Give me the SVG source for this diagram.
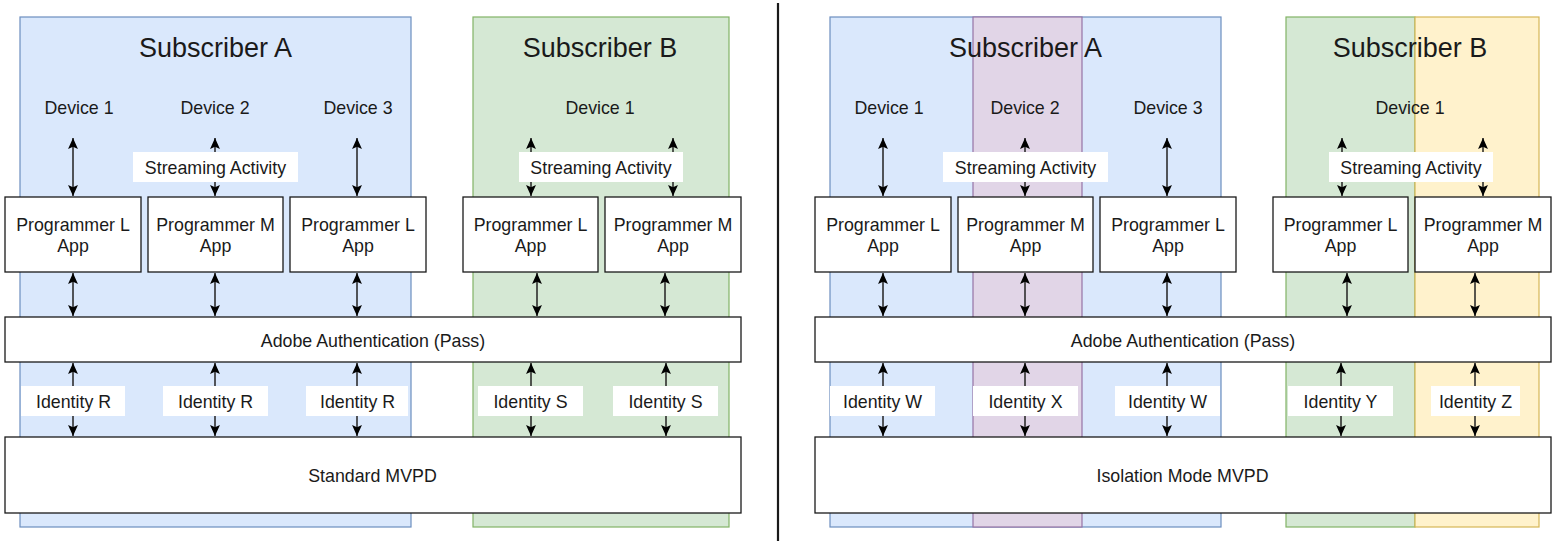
<svg xmlns="http://www.w3.org/2000/svg" width="1560" height="560" viewBox="0 0 1560 560">
<defs>
<marker id="ah" viewBox="0 0 10 10" refX="10" refY="5" markerWidth="11" markerHeight="11" markerUnits="userSpaceOnUse" orient="auto-start-reverse">
<path d="M0,0.5 L10,5 L0,9.5 L2,5 z" fill="#000"/>
</marker>
<style>
.sa{fill:#dae8fc;stroke:#6c8ebf;stroke-width:1.2}
.sb{fill:#d5e8d4;stroke:#82b366;stroke-width:1.2}
.sp{fill:#e1d5e7;stroke:#9673a6;stroke-width:1.2}
.sy{fill:#fff2cc;stroke:#d6b656;stroke-width:1.2}
.box{fill:#fff;stroke:#1a1a1a;stroke-width:1.3}
.lb{fill:#fff}
text{font-family:"Liberation Sans",Arial,Helvetica,sans-serif;fill:#1a1a1a;text-anchor:middle}
.t{font-size:17.8px}
.ti{font-size:27px}
.c{stroke:#222;stroke-width:1.5;fill:none;marker-start:url(#ah);marker-end:url(#ah)}
.div{stroke:#1a1a1a;stroke-width:2.2}
</style>
</defs>
<rect width="1560" height="560" fill="#fff"/>

<!-- LEFT PANEL: containers -->
<g id="subA-left">
<rect class="sa" x="20" y="17" width="391" height="510"/>
<text class="ti" x="215.5" y="57">Subscriber A</text>
<text class="t" x="79" y="114">Device 1</text>
<text class="t" x="215" y="114">Device 2</text>
<text class="t" x="358" y="114">Device 3</text>
</g>
<g id="subB-left">
<rect class="sb" x="473" y="17" width="256" height="510"/>
<text class="ti" x="600" y="57">Subscriber B</text>
<text class="t" x="600" y="114">Device 1</text>
</g>

<!-- RIGHT PANEL: containers -->
<g id="subA-right">
<rect class="sa" x="830" y="17" width="391" height="510"/>
<rect class="sp" x="973" y="17" width="109" height="510"/>
<text class="ti" x="1025.5" y="57">Subscriber A</text>
<text class="t" x="889" y="114">Device 1</text>
<text class="t" x="1025" y="114">Device 2</text>
<text class="t" x="1168" y="114">Device 3</text>
</g>
<g id="subB-right">
<rect class="sb" x="1286" y="17" width="129" height="510"/>
<rect class="sy" x="1415" y="17" width="124" height="510"/>
<text class="ti" x="1410" y="57">Subscriber B</text>
<text class="t" x="1410" y="114">Device 1</text>
</g>

<line id="divider" class="div" x1="778" y1="3" x2="778" y2="541"/>

<g id="connectors">
<!-- left: device to app -->
<line class="c" x1="73" y1="138" x2="73" y2="196"/>
<line class="c" x1="215" y1="138" x2="215" y2="196"/>
<line class="c" x1="357" y1="138" x2="357" y2="196"/>
<line class="c" x1="531" y1="138" x2="531" y2="196"/>
<line class="c" x1="673" y1="138" x2="673" y2="196"/>
<!-- left: app to auth -->
<line class="c" x1="73" y1="273" x2="73" y2="316"/>
<line class="c" x1="215" y1="273" x2="215" y2="316"/>
<line class="c" x1="357" y1="273" x2="357" y2="316"/>
<line class="c" x1="537" y1="273" x2="537" y2="316"/>
<line class="c" x1="665" y1="273" x2="665" y2="316"/>
<!-- left: auth to mvpd -->
<line class="c" x1="73" y1="363" x2="73" y2="436"/>
<line class="c" x1="215" y1="363" x2="215" y2="436"/>
<line class="c" x1="357" y1="363" x2="357" y2="436"/>
<line class="c" x1="531" y1="363" x2="531" y2="436"/>
<line class="c" x1="666" y1="363" x2="666" y2="436"/>
<!-- right: device to app -->
<line class="c" x1="883" y1="138" x2="883" y2="196"/>
<line class="c" x1="1025" y1="138" x2="1025" y2="196"/>
<line class="c" x1="1167" y1="138" x2="1167" y2="196"/>
<line class="c" x1="1342" y1="138" x2="1342" y2="196"/>
<line class="c" x1="1483" y1="138" x2="1483" y2="196"/>
<!-- right: app to auth -->
<line class="c" x1="883" y1="273" x2="883" y2="316"/>
<line class="c" x1="1025" y1="273" x2="1025" y2="316"/>
<line class="c" x1="1167" y1="273" x2="1167" y2="316"/>
<line class="c" x1="1347" y1="273" x2="1347" y2="316"/>
<line class="c" x1="1475" y1="273" x2="1475" y2="316"/>
<!-- right: auth to mvpd -->
<line class="c" x1="883" y1="363" x2="883" y2="436"/>
<line class="c" x1="1025" y1="363" x2="1025" y2="436"/>
<line class="c" x1="1167" y1="363" x2="1167" y2="436"/>
<line class="c" x1="1341" y1="363" x2="1341" y2="436"/>
<line class="c" x1="1475" y1="363" x2="1475" y2="436"/>

<!-- edge labels -->
<rect class="lb" x="133" y="152" width="165" height="30"/>
<text class="t" x="215.5" y="173.5">Streaming Activity</text>
<rect class="lb" x="519" y="152" width="164" height="30"/>
<text class="t" x="601" y="173.5">Streaming Activity</text>
<rect class="lb" x="943" y="152" width="165" height="30"/>
<text class="t" x="1025.5" y="173.5">Streaming Activity</text>
<rect class="lb" x="1329" y="152" width="164" height="30"/>
<text class="t" x="1411" y="173.5">Streaming Activity</text>

<rect class="lb" x="21" y="386" width="104" height="30"/>
<text class="t" x="73.5" y="407.5">Identity R</text>
<rect class="lb" x="163" y="386" width="105" height="30"/>
<text class="t" x="215.5" y="407.5">Identity R</text>
<rect class="lb" x="306" y="386" width="102" height="30"/>
<text class="t" x="357.5" y="407.5">Identity R</text>
<rect class="lb" x="478" y="386" width="105" height="30"/>
<text class="t" x="530.5" y="407.5">Identity S</text>
<rect class="lb" x="613" y="386" width="105" height="30"/>
<text class="t" x="665.5" y="407.5">Identity S</text>

<rect class="lb" x="830" y="386" width="105" height="30"/>
<text class="t" x="882.5" y="407.5">Identity W</text>
<rect class="lb" x="973" y="386" width="105" height="30"/>
<text class="t" x="1025.5" y="407.5">Identity X</text>
<rect class="lb" x="1115" y="386" width="105" height="30"/>
<text class="t" x="1167.5" y="407.5">Identity W</text>
<rect class="lb" x="1288" y="386" width="105" height="30"/>
<text class="t" x="1340.5" y="407.5">Identity Y</text>
<rect class="lb" x="1431" y="386" width="89" height="30"/>
<text class="t" x="1475.5" y="407.5">Identity Z</text>
</g>

<!-- LEFT nodes -->
<g id="appL1-left"><rect class="box" x="5" y="197" width="136" height="75"/><text class="t" x="73" y="231">Programmer L</text><text class="t" x="73" y="252">App</text></g>
<g id="appM-left"><rect class="box" x="148" y="197" width="135" height="75"/><text class="t" x="215.5" y="231">Programmer M</text><text class="t" x="215.5" y="252">App</text></g>
<g id="appL2-left"><rect class="box" x="290" y="197" width="136" height="75"/><text class="t" x="358" y="231">Programmer L</text><text class="t" x="358" y="252">App</text></g>
<g id="appBL-left"><rect class="box" x="463" y="197" width="135" height="75"/><text class="t" x="530.5" y="231">Programmer L</text><text class="t" x="530.5" y="252">App</text></g>
<g id="appBM-left"><rect class="box" x="605" y="197" width="136" height="75"/><text class="t" x="673" y="231">Programmer M</text><text class="t" x="673" y="252">App</text></g>
<g id="auth-left"><rect class="box" x="5" y="317" width="736" height="45"/><text class="t" x="373" y="347">Adobe Authentication (Pass)</text></g>
<g id="mvpd-left"><rect class="box" x="5" y="437" width="736" height="76"/><text class="t" x="372.5" y="482">Standard MVPD</text></g>

<!-- RIGHT nodes -->
<g id="appL1-right"><rect class="box" x="815" y="197" width="136" height="75"/><text class="t" x="883" y="231">Programmer L</text><text class="t" x="883" y="252">App</text></g>
<g id="appM-right"><rect class="box" x="958" y="197" width="135" height="75"/><text class="t" x="1025.5" y="231">Programmer M</text><text class="t" x="1025.5" y="252">App</text></g>
<g id="appL2-right"><rect class="box" x="1100" y="197" width="136" height="75"/><text class="t" x="1168" y="231">Programmer L</text><text class="t" x="1168" y="252">App</text></g>
<g id="appBL-right"><rect class="box" x="1273" y="197" width="135" height="75"/><text class="t" x="1340.5" y="231">Programmer L</text><text class="t" x="1340.5" y="252">App</text></g>
<g id="appBM-right"><rect class="box" x="1415" y="197" width="136" height="75"/><text class="t" x="1483" y="231">Programmer M</text><text class="t" x="1483" y="252">App</text></g>
<g id="auth-right"><rect class="box" x="815" y="317" width="736" height="45"/><text class="t" x="1183" y="347">Adobe Authentication (Pass)</text></g>
<g id="mvpd-right"><rect class="box" x="815" y="437" width="736" height="76"/><text class="t" x="1182.5" y="482">Isolation Mode MVPD</text></g>
</svg>
